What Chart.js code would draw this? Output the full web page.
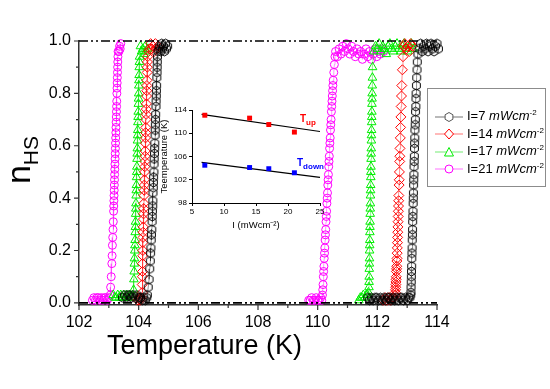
<!DOCTYPE html>
<html>
<head>
<meta charset="utf-8">
<script src="https://cdn.jsdelivr.net/npm/chart.js@4.4.0/dist/chart.umd.min.js"></script>
<style>
  body { margin: 0; background: #fff; font-family: "Liberation Sans", Arial, sans-serif; }
  #wrap { position: relative; width: 550px; height: 389px; overflow: hidden; }
  #main { position: absolute; left: 0; top: 0; }
  #inset { position: absolute; left: 150px; top: 100px; }
  .lab { position: absolute; white-space: nowrap; color: #000; }
  #xTitle { left: 107px; top: 330px; font-size: 27px; }
  #yTitle { left: -22px; top: 140px; width: 80px; height: 40px; line-height: 40px; text-align: center;
            font-size: 34px; transform: rotate(-90deg); }
  #yTitle span { font-size: 21px; position: relative; top: 8px; }
  .tl { font-weight: bold; font-size: 10px; }
  .tl span { font-size: 8px; position: relative; top: 3px; }
  #legend { position: absolute; left: 427px; top: 88px; width: 117px; height: 97px; border: 1px solid #8c8c8c; }
  .row { position: absolute; left: 6px; height: 14px; font-size: 13px; line-height: 14px; white-space: nowrap; }
  .row svg { vertical-align: middle; margin-right: 3px; }
  .row sup { font-size: 8px; }
</style>
</head>
<body>
<div id="wrap">
  <canvas id="main" width="550" height="389"></canvas>
  <canvas id="inset" width="180" height="135"></canvas>
  <div id="xTitle" class="lab">Temperature (K)</div>
  <div id="yTitle" class="lab">n<span>HS</span></div>
  <div class="lab tl" style="left:300px;top:113px;color:#f00">T<span>up</span></div>
  <div class="lab tl" style="left:297px;top:157px;color:#00f">T<span>down</span></div>
  <div id="legend"></div>
</div>
<script>
// heating branch (LS -> HS) and cooling branch (HS -> LS), temperature in K
const tUp7 = [111.68,111.74,111.8,111.86,111.92,111.98,112.04,112.1,112.16,112.22,112.28,112.34,112.4,112.46,112.52,112.58,112.64,112.7,112.76,112.82,112.88,112.94,113.0,113.05,113.09,
  113.12,113.125,113.13,113.135,113.14,113.145,113.15,113.155,113.16,113.165,113.17,113.175,113.18,113.185,113.19,113.195,113.2,113.205,113.21,113.215,113.22,113.225,113.23,113.235,113.24,113.245,113.25,113.255,113.26,
  113.27,113.275,113.28,113.29,113.295,113.3,113.31,113.32,113.33,113.34,113.36,
  113.4,113.45,113.5,113.55,113.6,113.65,113.7,113.75,113.8,113.85,113.9,113.95,114.0,114.05];
const nUp7 = [0.02,0.01,0.02,0.01,0.02,0.02,0.01,0.02,0.01,0.02,0.01,0.02,0.02,0.01,0.02,0.01,0.02,0.01,0.02,0.02,0.01,0.02,0.01,0.02,0.02,
  0.03,0.04,0.06,0.08,0.1,0.12,0.14,0.17,0.19,0.21,0.24,0.26,0.28,0.31,0.33,0.35,0.38,0.4,0.42,0.45,0.47,0.49,0.52,0.54,0.56,0.59,0.61,0.63,0.66,
  0.68,0.7,0.73,0.75,0.78,0.8,0.83,0.86,0.89,0.92,0.95,
  0.97,0.99,0.96,0.98,0.97,0.99,0.96,0.98,0.99,0.97,0.96,0.98,0.99,0.97];
const tDown7 = [104.97,104.93,104.9,104.86,104.83,104.8,104.77,104.74,104.71,104.68,104.65,
  104.63,104.625,104.62,104.615,104.61,104.6,104.595,104.59,104.585,104.58,104.57,104.565,104.56,104.555,104.55,104.54,104.535,104.53,104.52,104.515,
  104.51,104.5,104.495,104.49,104.48,104.475,104.47,104.46,104.455,104.45,104.44,104.43,104.42,104.41,104.4,104.39,104.37,104.35,104.32,104.29,
  104.27,104.22,104.17,104.12,104.06,104.0,103.94,103.88,103.82,103.76,103.7,103.64,103.58,103.52,103.46];
const nDown7 = [0.98,0.97,0.99,0.96,0.98,0.97,0.99,0.96,0.98,0.97,0.96,
  0.94,0.92,0.9,0.88,0.86,0.83,0.81,0.79,0.77,0.75,0.72,0.7,0.68,0.66,0.64,0.61,0.59,0.57,0.55,0.53,
  0.5,0.48,0.46,0.44,0.42,0.39,0.37,0.35,0.33,0.31,0.28,0.26,0.24,0.21,0.19,0.16,0.13,0.09,0.06,0.03,
  0.02,0.01,0.02,0.01,0.02,0.02,0.03,0.02,0.03,0.02,0.03,0.03,0.02,0.03,0.02];

const tUp14 = [112.2,112.26,112.32,112.38,112.44,112.5,112.55,
  112.6,112.605,112.61,112.615,112.62,112.625,112.63,112.635,112.64,112.645,112.65,112.655,112.66,112.665,112.67,112.675,112.68,112.685,112.69,112.695,112.7,112.705,112.71,112.715,112.72,
  112.73,112.735,112.74,112.75,112.755,112.76,112.77,112.78,112.79,112.8,112.81,112.82,112.84,112.86,112.88,
  112.92,112.97,113.02,113.07,113.12,113.17];
const nUp14 = [0.01,0.02,0.01,0.02,0.01,0.02,0.02,
  0.03,0.04,0.05,0.06,0.07,0.08,0.09,0.1,0.12,0.13,0.14,0.16,0.17,0.19,0.21,0.23,0.25,0.27,0.29,0.31,0.33,0.35,0.37,0.39,0.41,
  0.45,0.47,0.5,0.54,0.56,0.59,0.63,0.67,0.71,0.75,0.79,0.83,0.89,0.94,0.98,
  0.99,0.97,0.98,0.96,0.99,0.98];
const tDown14 = [104.64,104.6,104.56,104.52,104.48,104.44,104.4,104.36,104.33,
  104.3,104.295,104.29,104.285,104.28,104.275,104.27,104.265,104.26,104.255,104.25,104.245,104.24,104.235,104.23,104.225,104.22,
  104.215,104.21,104.205,104.2,104.195,104.19,104.185,104.18,104.175,104.17,104.165,104.16,104.155,104.15,104.145,104.14,
  104.14,104.135,104.13,104.13,104.125,104.12,104.12,
  104.09,104.05,104.01,103.97];
const nDown14 = [0.98,0.97,0.99,0.96,0.98,0.97,0.99,0.97,0.96,
  0.94,0.92,0.9,0.88,0.85,0.83,0.81,0.79,0.76,0.74,0.72,0.7,0.67,0.65,0.63,0.61,0.58,
  0.56,0.54,0.52,0.5,0.47,0.45,0.43,0.41,0.38,0.36,0.34,0.32,0.29,0.27,0.25,0.23,
  0.2,0.18,0.15,0.12,0.1,0.07,0.04,
  0.02,0.01,0.02,0.01];

const tUp17 = [111.38,111.43,111.48,111.53,111.58,111.63,111.67,111.7,
  111.72,111.723,111.727,111.73,111.733,111.737,111.74,111.743,111.747,111.75,111.753,111.757,111.76,111.763,111.767,111.77,111.773,111.777,
  111.78,111.783,111.787,111.79,111.793,111.797,111.8,111.803,111.807,111.81,111.813,111.817,111.82,111.823,111.827,111.83,111.835,111.84,
  111.88,111.94,112.0,112.06,112.12,112.18,112.24,112.3,112.36,112.42,112.48,112.54,112.6,112.66,112.72,112.78,112.84,112.9,112.96,113.02,113.08,113.14,113.2];
const nUp17 = [0.01,0.02,0.02,0.03,0.02,0.03,0.03,0.04,
  0.06,0.08,0.1,0.13,0.15,0.17,0.2,0.22,0.24,0.27,0.29,0.31,0.34,0.36,0.38,0.41,0.43,0.45,
  0.48,0.5,0.52,0.55,0.57,0.59,0.62,0.64,0.66,0.69,0.71,0.73,0.76,0.78,0.8,0.83,0.86,0.9,
  0.96,0.98,0.97,0.99,0.96,0.98,0.97,0.95,0.98,0.99,0.97,0.96,0.98,0.99,0.97,0.96,0.98,0.99,0.97,0.96,0.98,0.99,0.97];
const tDown17 = [104.3,104.26,104.22,104.18,104.14,104.1,104.06,
  104.03,104.025,104.02,104.015,104.01,104.005,104.0,103.995,103.99,103.985,103.98,103.975,103.97,103.965,103.96,103.955,103.95,
  103.945,103.94,103.935,103.93,103.925,103.92,103.915,103.91,103.905,103.9,103.895,103.89,103.885,103.88,103.875,103.87,
  103.86,103.855,103.85,103.84,103.83,
  103.8,103.75,103.7,103.65,103.6,103.55,103.5,103.45,103.4,103.35,103.3,103.25,103.2,103.15];
const nDown17 = [0.97,0.96,0.98,0.95,0.97,0.96,0.98,
  0.94,0.92,0.9,0.87,0.85,0.83,0.8,0.78,0.76,0.73,0.71,0.69,0.66,0.64,0.62,0.59,0.57,
  0.55,0.52,0.5,0.48,0.45,0.43,0.41,0.38,0.36,0.34,0.31,0.29,0.27,0.24,0.22,0.2,
  0.17,0.15,0.12,0.09,0.05,
  0.03,0.02,0.03,0.02,0.03,0.02,0.03,0.02,0.03,0.02,0.03,0.02,0.02,0.03];

const tUp21 = [109.7,109.75,109.8,109.85,109.9,109.95,110.0,110.05,110.1,110.14,
  110.16,110.17,110.18,110.19,110.2,110.21,110.22,110.23,110.24,110.25,110.26,110.27,110.28,110.29,110.3,110.31,110.32,110.33,110.34,110.35,
  110.36,110.37,110.38,110.39,110.4,110.41,110.42,110.43,110.44,110.45,110.46,110.47,110.48,110.49,110.5,110.51,110.52,110.54,110.56,110.58,
  110.6,110.66,110.72,110.78,110.84,110.9,110.96,111.02,111.08,111.14,111.2,111.26,111.32,111.38,111.44,111.5,111.56,111.62,111.68,111.74,111.8,111.86,111.92,111.98,112.04,112.1,112.16,112.22];
const nUp21 = [0.01,0.01,0.02,0.01,0.01,0.02,0.01,0.01,0.02,0.01,
  0.03,0.05,0.07,0.1,0.12,0.14,0.17,0.19,0.21,0.24,0.26,0.28,0.31,0.33,0.35,0.38,0.4,0.42,0.45,0.47,
  0.49,0.52,0.54,0.56,0.59,0.61,0.63,0.66,0.68,0.7,0.73,0.75,0.77,0.79,0.81,0.83,0.85,0.88,0.91,0.94,
  0.96,0.94,0.97,0.95,0.98,0.96,0.99,0.97,0.95,0.98,0.96,0.94,0.97,0.95,0.96,0.93,0.95,0.97,0.94,0.96,0.93,0.95,0.97,0.94,0.96,0.95,0.97,0.96];
const tDown21 = [103.4,103.38,103.36,103.34,
  103.31,103.305,103.3,103.295,103.29,103.285,103.28,103.275,103.27,103.265,103.26,103.255,103.25,103.245,103.24,103.235,
  103.23,103.225,103.22,103.215,103.21,103.205,103.2,103.195,103.19,103.185,103.18,103.175,103.17,103.165,103.16,
  103.15,103.14,103.13,103.12,103.11,103.1,103.08,103.06,103.05,
  103.0,102.95,102.9,102.85,102.8,102.75,102.7,102.65,102.6,102.55,102.5,102.45];
const nDown21 = [0.99,0.97,0.98,0.96,
  0.96,0.94,0.92,0.9,0.88,0.86,0.84,0.82,0.8,0.77,0.75,0.73,0.71,0.69,0.67,0.65,
  0.63,0.61,0.59,0.57,0.55,0.53,0.51,0.49,0.47,0.45,0.43,0.41,0.39,0.37,0.35,
  0.31,0.28,0.25,0.22,0.18,0.15,0.1,0.06,0.03,
  0.02,0.01,0.02,0.02,0.01,0.02,0.01,0.02,0.02,0.01,0.02,0.01];

const guideT = [102, 114];
const xMajor = [102, 104, 106, 108, 110, 112, 114];
const xMinor = [103, 105, 107, 109, 111, 113];
const yMajor = [0, 0.2, 0.4, 0.6, 0.8, 1.0];
const yMinor = [0.1, 0.3, 0.5, 0.7, 0.9];

// inset: transition temperatures vs light intensity
const insetI = [7, 14, 17, 21];
const insetUp = [113.1, 112.6, 111.5, 110.2];
const insetDown = [104.5, 104.1, 103.9, 103.2];
const fitI = [6.5, 25];
const fitUp = [113.25, 110.3];
const fitDown = [105.0, 102.4];

const labels = ['I=7', 'I=14', 'I=17', 'I=21'];
const colors = ['#000000', '#ff0000', '#00ee00', '#ff00ff'];
const lineColors = ['rgba(0,0,0,0.55)', 'rgba(255,0,0,0.55)', 'rgba(0,220,0,0.55)', 'rgba(255,0,255,0.55)'];

function pts(t, n) { return t.map((v, i) => ({x: v, y: n[i]})); }
function loop(tu, nu, td, nd) { return pts(tu, nu).concat([{x: 108, y: null}], pts(td, nd)); }

// hexagon marker for the I=7 series
const hex = document.createElement('canvas');
hex.width = 11; hex.height = 11;
(function () {
  const c = hex.getContext('2d');
  c.strokeStyle = '#000'; c.lineWidth = 1;
  c.beginPath();
  for (let k = 0; k < 6; k++) {
    const a = Math.PI / 2 + k * Math.PI / 3;
    const px = 5.5 + 4.5 * Math.cos(a), py = 5.5 - 4.5 * Math.sin(a);
    k ? c.lineTo(px, py) : c.moveTo(px, py);
  }
  c.closePath(); c.stroke();
})();

const styles = [hex, 'rectRot', 'triangle', 'circle'];
const radii = [4.5, 5, 5, 4];
const series = [loop(tUp7, nUp7, tDown7, nDown7), loop(tUp14, nUp14, tDown14, nDown14),
                loop(tUp17, nUp17, tDown17, nDown17), loop(tUp21, nUp21, tDown21, nDown21)];

function guide(y) {
  return { data: guideT.map(t => ({x: t, y: y})), borderColor: '#000', borderWidth: 1.6,
           borderDash: [9, 3, 2, 3, 2, 3], pointRadius: 0, clip: false };
}

const datasets = [guide(1), guide(0)];
series.forEach((d, i) => datasets.push({
  label: labels[i], data: d, borderColor: lineColors[i], borderWidth: 0.8,
  pointStyle: styles[i], pointRadius: radii[i], pointBorderColor: colors[i], pointBorderWidth: 1,
  pointBackgroundColor: 'rgba(0,0,0,0)', clip: false, spanGaps: false
}));

const mainTicks = {
  id: 'mainTicks',
  afterDraw(chart) {
    const {ctx, chartArea: a, scales: {x, y}} = chart;
    ctx.save();
    ctx.strokeStyle = '#333'; ctx.lineWidth = 1.2;
    ctx.beginPath();
    xMajor.forEach(v => { const p = x.getPixelForValue(v); ctx.moveTo(p, a.bottom); ctx.lineTo(p, a.bottom + 5); });
    xMinor.forEach(v => { const p = x.getPixelForValue(v); ctx.moveTo(p, a.bottom); ctx.lineTo(p, a.bottom + 3); });
    yMajor.forEach(v => { const p = y.getPixelForValue(v); ctx.moveTo(a.left, p); ctx.lineTo(a.left - 5, p); });
    yMinor.forEach(v => { const p = y.getPixelForValue(v); ctx.moveTo(a.left, p); ctx.lineTo(a.left - 3, p); });
    ctx.stroke();
    ctx.restore();
  }
};

const font = {family: '"Liberation Sans", Arial, sans-serif', size: 16};

new Chart(document.getElementById('main'), {
  type: 'line',
  data: { datasets: datasets },
  options: {
    responsive: false, animation: false, events: [],
    layout: { padding: {top: 41, right: 113, left: 0, bottom: 0} },
    plugins: { legend: {display: false}, tooltip: {enabled: false} },
    scales: {
      x: {
        type: 'linear', min: 102, max: 114,
        afterBuildTicks: s => { s.ticks = xMajor.map(v => ({value: v})); },
        afterFit: s => { s.height = 84; },
        grid: {display: false, drawTicks: false},
        border: {display: true, color: '#333', width: 1.5},
        ticks: {font: font, color: '#000', padding: 8, maxRotation: 0, callback: v => String(v)}
      },
      y: {
        type: 'linear', min: -0.008, max: 1.0,
        afterBuildTicks: s => { s.ticks = yMajor.map(v => ({value: v})); },
        afterFit: s => { s.width = 79; },
        grid: {display: false, drawTicks: false},
        border: {display: true, color: '#333', width: 1.5},
        ticks: {font: font, color: '#000', padding: 8, callback: v => v.toFixed(1)}
      }
    }
  },
  plugins: [mainTicks]
});

const small = {family: '"Liberation Sans", Arial, sans-serif', size: 8};
const titleFont = {family: '"Liberation Sans", Arial, sans-serif', size: 9.5};

new Chart(document.getElementById('inset'), {
  type: 'line',
  data: {
    datasets: [
      { data: pts(insetI, insetUp), showLine: false, pointStyle: 'rect', pointRadius: 3.5,
        pointBackgroundColor: '#ff0000', pointBorderColor: '#ff0000', pointBorderWidth: 0 },
      { data: pts(insetI, insetDown), showLine: false, pointStyle: 'rect', pointRadius: 3.5,
        pointBackgroundColor: '#0000ff', pointBorderColor: '#0000ff', pointBorderWidth: 0 },
      { data: pts(fitI, fitUp), borderColor: '#000', borderWidth: 1.2, pointRadius: 0 },
      { data: pts(fitI, fitDown), borderColor: '#000', borderWidth: 1.2, pointRadius: 0 }
    ]
  },
  options: {
    responsive: false, animation: false, events: [],
    layout: { padding: {top: 10, right: 10, left: 0, bottom: 0} },
    plugins: { legend: {display: false}, tooltip: {enabled: false} },
    scales: {
      x: {
        type: 'linear', min: 5, max: 25,
        afterBuildTicks: s => { s.ticks = [5, 10, 15, 20, 25].map(v => ({value: v})); },
        afterFit: s => { s.height = 32; },
        grid: {drawOnChartArea: false, tickLength: 3, color: '#000'},
        border: {color: '#000', width: 1},
        ticks: {font: small, color: '#000', padding: 1, maxRotation: 0},
        title: {display: true, text: 'I (mWcm⁻²)', font: titleFont, color: '#000', padding: {top: 0, bottom: 4}}
      },
      y: {
        type: 'linear', min: 98, max: 114,
        afterBuildTicks: s => { s.ticks = [98, 102, 106, 110, 114].map(v => ({value: v})); },
        afterFit: s => { s.width = 42; },
        grid: {drawOnChartArea: false, tickLength: 3, color: '#000'},
        border: {color: '#000', width: 1},
        ticks: {font: small, color: '#000', padding: 2},
        title: {display: true, text: 'Teemperature (K)', font: titleFont, color: '#000', padding: {top: 9, bottom: 0}}
      }
    }
  }
});

// legend box
const shapes = [
  '<polygon points="15,1.5 18.9,3.75 18.9,8.25 15,10.5 11.1,8.25 11.1,3.75" fill="#fff" stroke="#555"/>',
  '<polygon points="15,1 19.5,6 15,11 10.5,6" fill="#fff" stroke="#ff0000"/>',
  '<polygon points="15,1.5 19.5,10 10.5,10" fill="#fff" stroke="#00ee00"/>',
  '<circle cx="15" cy="6" r="4" fill="#fff" stroke="#ff00ff"/>'
];
const legend = document.getElementById('legend');
labels.forEach((lab, i) => {
  const row = document.createElement('div');
  row.className = 'row';
  row.style.top = (17 + i * 17.5) + 'px';
  row.innerHTML = '<svg width="30" height="12"><line x1="1" y1="6" x2="29" y2="6" stroke="' + lineColors[i] +
    '" stroke-width="1"/>' + shapes[i] + '</svg>' + lab + ' <i>mWcm</i><sup>-2</sup>';
  legend.appendChild(row);
});
</script>
</body>
</html>
